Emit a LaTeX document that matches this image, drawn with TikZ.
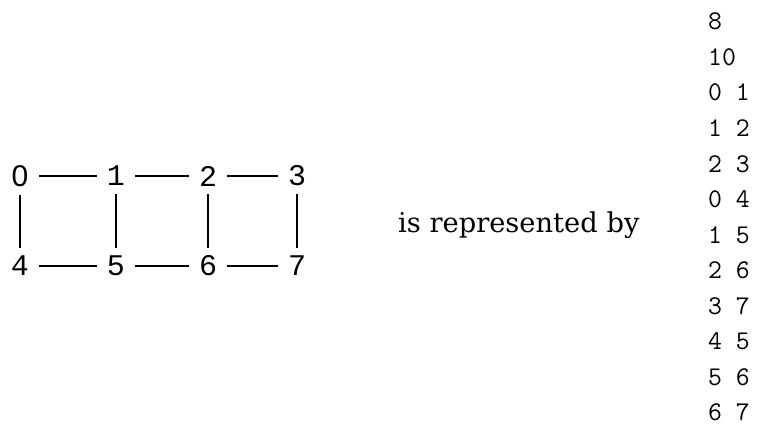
\documentclass[tikz,border=0pt]{standalone}
\usepackage{fontspec}
\newfontfamily\graphfont{Liberation Mono}
\newfontfamily\zerofont{Liberation Sans}
\newfontfamily\capfont{DejaVu Serif}
\tikzset{
  vert/.style={font=\graphfont\fontsize{30}{30}\selectfont, inner xsep=10pt, inner ysep=8pt, minimum width=38pt},
  zerovert/.style={vert, font=\zerofont\fontsize{30}{30}\selectfont},
  edge/.style={line width=2.4pt},
  row/.style={font=\ttfamily\fontsize{27}{27}\selectfont, anchor=base west, inner sep=0pt}
}
\begin{document}
\begin{tikzpicture}[x=1pt,y=-1pt]
\useasboundingbox (0,0) rectangle (760,441);
\node[zerovert] (n0) at (20,176) {0};
\node[vert] (n1) at (116,176) {1};
\node[vert] (n2) at (208,176) {2};
\node[vert] (n3) at (297,176) {3};
\node[vert] (n4) at (20,266) {4};
\node[vert] (n5) at (116,266) {5};
\node[vert] (n6) at (208,266) {6};
\node[vert] (n7) at (297,266) {7};
\draw[edge] (n0) -- (n1);
\draw[edge] (n1) -- (n2);
\draw[edge] (n2) -- (n3);
\draw[edge] (n4) -- (n5);
\draw[edge] (n5) -- (n6);
\draw[edge] (n6) -- (n7);
\draw[edge] (n0) -- (n4);
\draw[edge] (n1) -- (n5);
\draw[edge] (n2) -- (n6);
\draw[edge] (n3) -- (n7);
\node[font=\capfont\fontsize{27.3}{30}\selectfont, anchor=base west, inner sep=0pt] (txt) at (398,232) {is represented by};
\foreach \t [count=\i from 0] in {8,10,0 1,1 2,2 3,0 4,1 5,2 6,3 7,4 5,5 6,6 7}
  \node[row] (r\i) at (708,30+35.5*\i) {\t};
\end{tikzpicture}
\end{document}
